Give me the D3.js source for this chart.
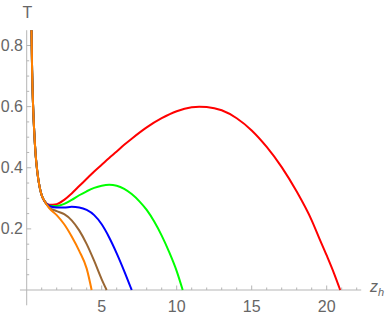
<!DOCTYPE html>
<html><head><meta charset="utf-8">
<script src="https://cdn.jsdelivr.net/npm/d3@7"></script>
<style>html,body{margin:0;padding:0;background:#fff;}svg{display:block;}</style>
</head><body>
<svg id="c" width="388" height="319"></svg>
<script>
// shared small-z branch
const branchZ = [0.32, 0.36, 0.42, 0.50, 0.60, 0.70, 0.85, 1.0, 1.2];
const branchT = [0.85, 0.72, 0.61, 0.52, 0.44, 0.39, 0.34, 0.31, 0.29];

const redZ = [1.5, 2.0, 2.5, 3.0, 3.5, 4.0, 4.5, 5.0, 5.5, 6.0, 6.5, 7.0, 8.0, 9.0, 10.0, 11.0, 11.5, 12.0, 13.0, 14.0, 15.0, 16.0, 17.0, 18.0, 19.0, 19.5, 20.0, 20.5, 20.9];
const redT = [0.279, 0.281, 0.295, 0.316, 0.340, 0.364, 0.388, 0.410, 0.432, 0.453, 0.475, 0.495, 0.532, 0.562, 0.585, 0.598, 0.600, 0.599, 0.588, 0.562, 0.522, 0.468, 0.402, 0.322, 0.228, 0.170, 0.113, 0.053, 0.0];

const greenZ = [1.5, 2.0, 2.5, 3.0, 3.5, 4.0, 4.5, 5.0, 5.5, 6.0, 6.5, 7.0, 7.5, 8.0, 8.5, 9.0, 9.5, 10.0, 10.4];
const greenT = [0.276, 0.275, 0.282, 0.295, 0.310, 0.323, 0.334, 0.341, 0.344, 0.341, 0.331, 0.314, 0.291, 0.262, 0.224, 0.178, 0.124, 0.062, 0.0];

const blueZ = [1.5, 2.0, 2.5, 3.0, 3.5, 4.0, 4.5, 5.0, 5.5, 6.0, 6.5, 7.0];
const blueT = [0.275, 0.270, 0.270, 0.272, 0.270, 0.262, 0.245, 0.215, 0.172, 0.12, 0.062, 0.0];

const brownZ = [1.5, 2.0, 2.5, 3.0, 3.5, 4.0, 4.5, 5.0, 5.33];
const brownT = [0.27, 0.258, 0.248, 0.228, 0.195, 0.15, 0.095, 0.035, 0.0];

const orangeZ = [1.5, 2.0, 2.5, 3.0, 3.5, 4.0, 4.33];
const orangeT = [0.268, 0.245, 0.215, 0.175, 0.128, 0.07, 0.0];

const seriesNames = ["red", "green", "blue", "brown", "orange"];
const seriesColors = ["#ff0000", "#00ff00", "#0000ff", "#996633", "#ff8000"];

const xTicks = [5, 10, 15, 20];
const xTickLabels = ["5", "10", "15", "20"];
const yTicks = [0.2, 0.4, 0.6, 0.8];
const yTickLabels = ["0.2", "0.4", "0.6", "0.8"];

const svg = d3.select("#c");
const x = d3.scaleLinear().domain([0, 20]).range([26.7, 326.7]);
const y = d3.scaleLinear().domain([0, 0.8]).range([290, 45.5]);

const axisColor = "#b5b5b5";
const labelColor = "#666";
const font = "'Liberation Sans', Arial, sans-serif";

// axis lines
svg.append("line").attr("x1", x(-0.45)).attr("x2", x(22.3)).attr("y1", y(0)).attr("y2", y(0))
  .attr("stroke", axisColor).attr("stroke-width", 1);
svg.append("line").attr("x1", x(0)).attr("x2", x(0)).attr("y1", y(-0.05)).attr("y2", y(0.85))
  .attr("stroke", axisColor).attr("stroke-width", 1);

// minor and major ticks
const xMinor = d3.range(1, 23).filter(v => v % 5 !== 0);
xMinor.forEach(v => svg.append("line").attr("x1", x(v)).attr("x2", x(v)).attr("y1", y(0)).attr("y2", y(0) - 2.5).attr("stroke", axisColor));
xTicks.forEach(v => svg.append("line").attr("x1", x(v)).attr("x2", x(v)).attr("y1", y(0)).attr("y2", y(0) - 4.5).attr("stroke", axisColor));
const yMinor = d3.range(1, 17).map(i => i * 0.05).filter((v, i) => (i + 1) % 4 !== 0);
yMinor.forEach(v => svg.append("line").attr("x1", x(0)).attr("x2", x(0) + 2.5).attr("y1", y(v)).attr("y2", y(v)).attr("stroke", axisColor));
yTicks.forEach(v => svg.append("line").attr("x1", x(0)).attr("x2", x(0) + 4.5).attr("y1", y(v)).attr("y2", y(v)).attr("stroke", axisColor));

// tick labels
xTicks.forEach((v, i) => svg.append("text").attr("x", x(v)).attr("y", 312).attr("text-anchor", "middle")
  .attr("font-family", font).attr("font-size", 16).attr("fill", labelColor).text(xTickLabels[i]));
yTicks.forEach((v, i) => svg.append("text").attr("x", 23).attr("y", y(v) + 5.5).attr("text-anchor", "end")
  .attr("font-family", font).attr("font-size", 16).attr("fill", labelColor).text(yTickLabels[i]));

// axis labels
svg.append("text").attr("x", 27.5).attr("y", 18).attr("text-anchor", "middle")
  .attr("font-family", font).attr("font-size", 16).attr("fill", labelColor).text("T");
const zl = svg.append("text").attr("x", 370).attr("y", 292)
  .attr("font-family", font).attr("font-size", 16).attr("fill", labelColor);
zl.append("tspan").attr("font-style", "italic").text("z");
zl.append("tspan").attr("font-style", "italic").attr("font-size", 11).attr("dy", 4).text("h");

// curves
const zs = [redZ, greenZ, blueZ, brownZ, orangeZ];
const ts = [redT, greenT, blueT, brownT, orangeT];
const line = d3.line().x(d => x(d[0])).y(d => y(d[1])).curve(d3.curveMonotoneX);
seriesNames.forEach((name, k) => {
  const pts = branchZ.map((z, i) => [z, branchT[i]]).concat(zs[k].map((z, i) => [z, ts[k][i]]));
  svg.append("path").datum(pts).attr("d", line).attr("fill", "none")
    .attr("stroke", seriesColors[k]).attr("stroke-width", 2).attr("stroke-linejoin", "round").attr("class", name);
});
</script>
</body></html>
